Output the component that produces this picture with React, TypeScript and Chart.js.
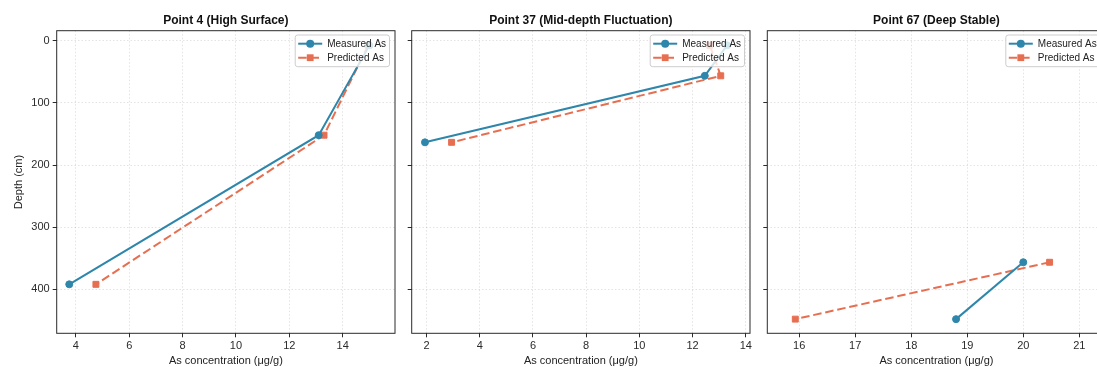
import React, { useEffect, useRef } from 'react';
import { Chart, registerables } from 'chart.js';

Chart.register(...registerables);

// ---- Data ----
const panelTitles = ['Point 4 (High Surface)', 'Point 37 (Mid-depth Fluctuation)', 'Point 67 (Deep Stable)'];

const depthP4 = [7.5, 152, 392];
const measuredP4 = [15.0, 13.1, 3.75];
const predictedP4 = [14.95, 13.3, 4.75];

const depthP37 = [7.5, 56.5, 163.5];
const measuredP37 = [13.3, 12.46, 1.94];
const predictedP37 = [12.65, 13.06, 2.94];

const depthP67 = [356.5, 448];
const measuredP67 = [20.0, 18.8];
const predictedP67 = [20.47, 15.93];

const seriesLabels = ['Measured As', 'Predicted As'];
const xAxisTitle = 'As concentration (μg/g)';
const yAxisTitle = 'Depth (cm)';

const depths = [depthP4, depthP37, depthP67];
const measured = [measuredP4, measuredP37, measuredP67];
const predicted = [predictedP4, predictedP37, predictedP67];

// ---- Layout / style ----
const FONT = '"Liberation Sans", Arial, Helvetica, sans-serif';
const BLUE = '#2E86AB';
const ORANGE = '#E76F51';
const DARK = '#2b2b2b';
const DASH = [8.5, 3.8];
const H = 367;
const PLOT_BOTTOM = 333.3;

const panelLayout = [
  { left: 0, width: 403, yWidth: 56.7, padRight: 8, xMin: 3.28, xMax: 15.96, xStep: 2, yLabels: true },
  { left: 403, width: 355, yWidth: 8.7, padRight: 8, xMin: 1.44, xMax: 14.16, xStep: 2, yLabels: false },
  { left: 758, width: 356, yWidth: 9.3, padRight: 8.4, xMin: 15.43, xMax: 21.47, xStep: 1, yLabels: false },
];

const framePlugin = {
  id: 'frameLegend',
  afterDatasetsDraw(chart: any) {
    const { ctx, chartArea } = chart;
    const { left, top, right, bottom } = chartArea;
    ctx.save();
    // legend box
    const bw = 94.3;
    const bh = 31.7;
    const bx = right - 5.5 - bw;
    const by = top + 4.3;
    ctx.beginPath();
    const r = 2.5;
    ctx.moveTo(bx + r, by);
    ctx.lineTo(bx + bw - r, by);
    ctx.quadraticCurveTo(bx + bw, by, bx + bw, by + r);
    ctx.lineTo(bx + bw, by + bh - r);
    ctx.quadraticCurveTo(bx + bw, by + bh, bx + bw - r, by + bh);
    ctx.lineTo(bx + r, by + bh);
    ctx.quadraticCurveTo(bx, by + bh, bx, by + bh - r);
    ctx.lineTo(bx, by + r);
    ctx.quadraticCurveTo(bx, by, bx + r, by);
    ctx.closePath();
    ctx.fillStyle = 'rgba(255,255,255,0.8)';
    ctx.fill();
    ctx.strokeStyle = 'rgba(200,200,200,0.9)';
    ctx.lineWidth = 1;
    ctx.stroke();

    const rows = [by + 8.7, by + 22.7];
    const colors = [BLUE, ORANGE];
    for (let i = 0; i < 2; i++) {
      const y = rows[i];
      ctx.strokeStyle = colors[i];
      ctx.lineWidth = 2;
      ctx.setLineDash(i === 1 ? DASH : []);
      ctx.beginPath();
      ctx.moveTo(bx + 3, y);
      ctx.lineTo(bx + 27, y);
      ctx.stroke();
      ctx.setLineDash([]);
      ctx.fillStyle = colors[i];
      const cx = bx + 15;
      if (i === 0) {
        ctx.beginPath();
        ctx.arc(cx, y, 4, 0, Math.PI * 2);
        ctx.fill();
      } else {
        ctx.fillRect(cx - 3.4, y - 3.4, 6.8, 6.8);
      }
      ctx.fillStyle = '#222';
      ctx.font = `10px ${FONT}`;
      ctx.textBaseline = 'middle';
      ctx.textAlign = 'left';
      ctx.fillText(seriesLabels[i], bx + 32, y + 0.5);
    }

    // frame (all four spines)
    ctx.strokeStyle = DARK;
    ctx.lineWidth = 1;
    ctx.strokeRect(left, top, right - left, bottom - top);
    ctx.restore();
  },
};

function Panel({ idx }: { idx: number }) {
  const ref = useRef<HTMLCanvasElement | null>(null);
  const p = panelLayout[idx];
  useEffect(() => {
    if (!ref.current) return;
    const mData = depths[idx].map((d, i) => ({ x: measured[idx][i], y: d }));
    const pData = depths[idx].map((d, i) => ({ x: predicted[idx][i], y: d }));
    const chart = new Chart(ref.current, {
      type: 'scatter',
      data: {
        datasets: [
          {
            label: seriesLabels[0],
            data: mData,
            showLine: true,
            borderColor: BLUE,
            backgroundColor: BLUE,
            borderWidth: 2,
            pointStyle: 'circle',
            pointRadius: 3.5,
            pointBorderWidth: 1,
            pointBorderColor: BLUE,
            pointBackgroundColor: BLUE,
          },
          {
            label: seriesLabels[1],
            data: pData,
            showLine: true,
            borderColor: ORANGE,
            backgroundColor: ORANGE,
            borderWidth: 2,
            borderDash: DASH,
            pointStyle: 'rect',
            pointRadius: 4.2,
            pointBorderWidth: 1,
            pointBorderColor: ORANGE,
            pointBackgroundColor: ORANGE,
          },
        ],
      },
      options: {
        responsive: false,
        animation: false,
        devicePixelRatio: 1,
        layout: { padding: { left: 0, right: p.padRight, top: 0, bottom: 0 } },
        plugins: {
          legend: { display: false },
          tooltip: { enabled: false },
          title: {
            display: true,
            text: panelTitles[idx],
            fullSize: false,
            color: '#111',
            font: { family: FONT, size: 12, weight: 'bold', lineHeight: 1.2 },
            padding: { top: 13.5, bottom: 2.8 },
          },
        },
        scales: {
          x: {
            type: 'linear',
            min: p.xMin,
            max: p.xMax,
            afterFit: (s: any) => {
              s.height = H - PLOT_BOTTOM;
            },
            ticks: {
              stepSize: p.xStep,
              includeBounds: false,
              color: DARK,
              padding: 2,
              font: { family: FONT, size: 11 },
              maxRotation: 0,
            },
            grid: {
              color: 'rgba(0,0,0,0.14)',
              lineWidth: 0.8,
              tickLength: 4,
              tickColor: DARK,
              tickWidth: 1,
              tickBorderDash: [],
            },
            border: { display: false, dash: [1.5, 2] },
            title: {
              display: true,
              text: xAxisTitle,
              color: '#222',
              font: { family: FONT, size: 11, lineHeight: 1 },
              padding: { top: 0, bottom: 1 },
            },
          },
          y: {
            type: 'linear',
            reverse: true,
            min: -16.1,
            max: 470.8,
            afterFit: (s: any) => {
              s.width = p.yWidth;
            },
            ticks: {
              stepSize: 100,
              includeBounds: false,
              color: DARK,
              padding: 3,
              font: { family: FONT, size: 11 },
              callback: (v: any) => (p.yLabels ? String(v) : ''),
            },
            grid: {
              color: 'rgba(0,0,0,0.14)',
              lineWidth: 0.8,
              tickLength: 4,
              tickColor: DARK,
              tickWidth: 1,
              tickBorderDash: [],
            },
            border: { display: false, dash: [1.5, 2] },
            title: {
              display: p.yLabels,
              text: yAxisTitle,
              color: '#222',
              font: { family: FONT, size: 11, lineHeight: 1 },
              padding: { top: 13.5, bottom: 0 },
            },
          },
        },
      },
      plugins: [framePlugin],
    } as any);
    return () => chart.destroy();
  }, [idx]);
  return (
    <canvas
      ref={ref}
      width={p.width}
      height={H}
      style={{ position: 'absolute', left: p.left, top: 0, width: p.width, height: H }}
    />
  );
}

export default function App() {
  return (
    <div
      style={{
        position: 'absolute',
        left: 0,
        top: 0,
        width: 1097,
        height: H,
        overflow: 'hidden',
        background: '#ffffff',
      }}
    >
      {panelLayout.map((_, i) => (
        <Panel key={i} idx={i} />
      ))}
    </div>
  );
}
